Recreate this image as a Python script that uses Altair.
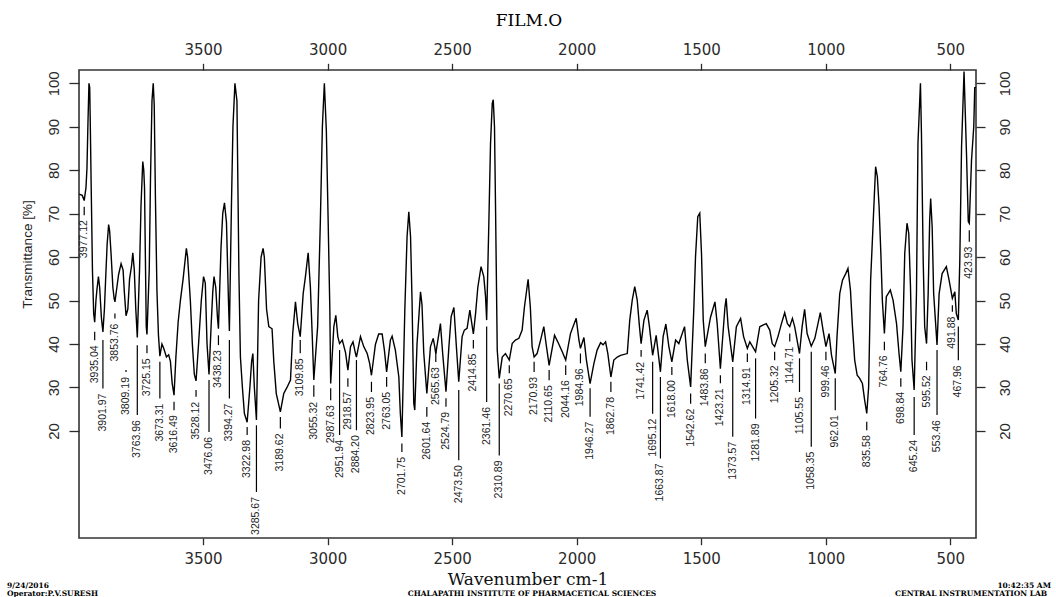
import altair as alt
import pandas as pd

# ---- spectrum (wavenumber cm-1, transmittance %), in segments ----
SEG_4000_3300 = [
    (3997, 74.5), (3985, 74.2), (3977.12, 73.0), (3970, 76), (3966, 80.5), (3962, 91), (3958, 100),
    (3955, 99), (3952, 88), (3949, 76), (3944, 57), (3939, 47), (3935.04, 45.0), (3930, 50),
    (3926, 52.5), (3920, 55.5), (3915, 53), (3908, 46), (3901.97, 42.8), (3896, 48), (3891, 55),
    (3885, 63), (3879, 67.5), (3875, 66), (3869, 60.5), (3862, 53), (3857, 50.5), (3853.76, 49.7),
    (3846, 53), (3839, 56), (3829, 58.5), (3821, 57), (3816, 52), (3809.19, 46.5), (3802, 48),
    (3795, 55), (3787, 58), (3782, 61), (3776, 57), (3770, 48), (3763.96, 41.5), (3755, 57),
    (3749, 72), (3742, 82), (3738, 80), (3735, 76), (3728, 44), (3725.15, 42.2), (3716, 57),
    (3711, 78), (3705, 96), (3700, 100), (3696, 95), (3691, 73), (3685, 52), (3679, 42),
    (3673.31, 37.2), (3665, 40), (3658, 39), (3647, 37), (3638, 37.5), (3631, 36), (3624, 31),
    (3616.49, 28.2), (3609, 37), (3600, 45), (3591, 50), (3580, 55), (3567, 62), (3562, 60),
    (3551, 50), (3543, 40), (3535, 33), (3528.12, 31.5), (3518, 40), (3507, 50), (3498, 55.5),
    (3491, 54), (3484, 40), (3476.06, 33.0), (3467, 45), (3461, 52), (3456, 55.5), (3449, 53),
    (3442, 46), (3438.23, 43.5), (3428, 62), (3421, 70), (3414, 72.5), (3406, 68), (3398, 50),
    (3394.27, 43.0), (3386, 72), (3380, 90), (3372, 100), (3364, 96), (3356, 56), (3350, 37),
    (3342, 30), (3334, 24), (3322.98, 22.0),
]
SEG_3300_2400 = [
    (3312, 30), (3305, 36), (3300, 37.8), (3294, 30), (3285.67, 22.5), (3277, 50), (3267, 60),
    (3259, 62), (3254, 60), (3245, 48), (3236, 44), (3223, 43.5), (3216, 36), (3206, 28.6),
    (3189.62, 24.4), (3176, 28.6), (3163, 30), (3149, 31.7), (3140, 42.4), (3129, 49.7),
    (3120, 44.7), (3109.85, 41.7), (3098, 51.6), (3089, 55.5), (3078, 61), (3069, 53),
    (3062, 42.4), (3055.32, 31.7), (3040, 44), (3029, 68.5), (3021, 90), (3013, 100), (3005, 89),
    (2998, 69), (2991, 47.8), (2987.63, 30.9), (2975, 44), (2967, 46.6), (2959, 41.7),
    (2951.94, 40.1), (2941, 40.9), (2928, 38), (2918.57, 34.0), (2908, 39.4), (2898, 40.5),
    (2888, 37.8), (2884.20, 37.0), (2868, 41.7), (2855, 39.4), (2841, 37.8), (2831, 35.5),
    (2823.95, 32.8), (2808, 39.9), (2795, 42.3), (2781, 42.3), (2772, 38.6), (2763.05, 33.6),
    (2748, 40.9), (2741, 41.8), (2728, 38.6), (2714, 32.4), (2708, 24), (2701.75, 18.6),
    (2690, 47.8), (2681, 64.7), (2674, 70.4), (2667, 64.7), (2661, 50), (2654, 26.3),
    (2650, 24.8), (2641, 40), (2627, 52), (2621, 49), (2614, 38), (2601.64, 28.6), (2587, 39.4),
    (2576, 41.3), (2570, 39.4), (2565.63, 37.8), (2547, 44.7), (2538, 37.8), (2524.79, 29.0),
    (2513, 39.4), (2504, 46.3), (2493, 48.4), (2483, 39.4), (2473.50, 31.3), (2460, 41.7),
    (2451, 43.2), (2440, 43.6), (2429, 47.8), (2414.85, 42.3), (2406, 47),
]
SEG_2400_1400 = [
    (2397, 53), (2384, 57.8), (2373, 55.5), (2366, 51), (2361.46, 45.5), (2353, 67), (2346, 86),
    (2339, 95.4), (2335, 96.2), (2330, 90), (2326, 72.4), (2319, 38.6), (2310.89, 32.1),
    (2299, 37), (2286, 37.8), (2270.65, 36.3), (2259, 40.1), (2246, 40.9), (2232, 41.3),
    (2219, 43.2), (2210, 48.4), (2195, 54.9), (2186, 48.4), (2179, 39.4), (2170.93, 37.0),
    (2159, 37.8), (2145, 40.9), (2132, 44), (2123, 40.1), (2110.65, 35.1), (2089, 42),
    (2076, 40.5), (2058, 38.2), (2044.16, 36.3), (2025, 42.4), (2002, 45.9), (1991, 40.9),
    (1984.96, 39), (1971, 41.5), (1961, 36.3), (1946.27, 30.9), (1931, 35.5), (1918, 38.6),
    (1904, 40.3), (1894, 39.8), (1884, 40.5), (1875, 37.8), (1862.78, 32.4), (1851, 36.3),
    (1837, 37), (1824, 37.4), (1797, 37.8), (1787, 45.5), (1777, 50.1), (1767, 53.2),
    (1757, 50.1), (1748, 44), (1741.42, 40.1), (1730, 45.5), (1717, 47.8), (1708, 44),
    (1695.12, 37.4), (1681, 42), (1663.87, 33.6), (1653, 41.7), (1642, 44.6), (1630, 39.4),
    (1618.00, 35.9), (1603, 40.9), (1590, 40.1), (1567, 44), (1556, 36.3), (1542.62, 30.1),
    (1530, 47.8), (1523, 60.1), (1514, 69.3), (1506, 70.1), (1499, 60.9), (1492, 45.5),
    (1483.86, 39.4), (1463, 46.1), (1445, 49.7), (1436, 44.7), (1423.21, 34.3), (1405, 48.4),
]
SEG_1400_397 = [
    (1400, 50.5), (1392, 44), (1373.57, 35.9), (1359, 44), (1342, 45.9), (1330, 41.7),
    (1314.91, 39), (1305, 40.5), (1281.89, 38.2), (1265, 44), (1239, 44.7), (1225, 43.2),
    (1215, 40.1), (1205.32, 39.4), (1192, 41.7), (1178, 44.7), (1165, 47.2), (1154, 44.7),
    (1144.71, 44), (1134, 45.9), (1125, 44), (1105.55, 37.8), (1095, 44), (1085, 48),
    (1075, 42.4), (1058.35, 39.5), (1044, 41.3), (1022, 47.2), (1011, 43.2), (999.46, 39.4),
    (987, 42.4), (977, 37.4), (962.01, 33.2), (955, 41.7), (944, 51.6), (933, 54.7), (920, 56.2),
    (911, 57.4), (901, 52.4), (893, 44), (884, 36.3), (874, 32.8), (864, 32.1), (853, 30.9),
    (844, 27.1), (835.58, 24.0), (828, 30.1), (820, 54.7), (810, 67.8), (800, 80.8), (793, 78.5),
    (786, 71.6), (779, 60.9), (773, 50.1), (764.76, 42.4), (757, 50.9), (741, 52.4), (730, 50.1),
    (716, 44.7), (706, 37.8), (698.84, 33.6), (690, 44), (683, 60.9), (674, 67.8), (667, 65.5),
    (660, 53.2), (654, 36.3), (645.24, 29.4), (636, 51.6), (630, 86.2), (620, 100), (616, 88.5),
    (609, 59.3), (603, 44), (595.52, 40.1), (589, 51.6), (583, 68.5), (579, 73.5), (573, 67),
    (567, 51.6), (553.46, 39.8), (545, 51.6), (533, 56.2), (516, 57.8), (505, 54.7),
    (491.88, 50.5), (482, 52), (476, 47), (467.96, 45.5), (462, 59.3), (455, 85.4), (445, 102.7),
    (435, 83.5), (428, 68.2), (423.93, 67.8), (415, 82.3), (406, 90), (402, 99), (397, 99),
]

# ---- peak picks: wavenumber, top of leader line and top of label (both in % T) ----
PEAK_WN = [3977.12, 3935.04, 3901.97, 3853.76, 3809.19, 3763.96, 3725.15, 3673.31, 3616.49,
           3528.12, 3476.06, 3438.23, 3394.27, 3322.98, 3285.67, 3189.62, 3109.85, 3055.32,
           2987.63, 2951.94, 2918.57, 2884.20, 2823.95, 2763.05, 2701.75, 2601.64, 2565.63,
           2524.79, 2473.50, 2414.85, 2361.46, 2310.89, 2270.65, 2170.93, 2110.65, 2044.16,
           1984.96, 1946.27, 1862.78, 1741.42, 1695.12, 1663.87, 1618.00, 1542.62, 1483.86,
           1423.21, 1373.57, 1314.91, 1281.89, 1205.32, 1144.71, 1105.55, 1058.35, 999.46,
           962.01, 835.58, 764.76, 698.84, 645.24, 595.52, 553.46, 491.88, 467.96, 423.93]
PEAK_LINE_TOP = [71.6, 42.8, 40.9, 47.0, 34.0, 39.7, 39.7, 35.9, 26.7,
                 29.4, 31.7, 42.0, 40.9, 20.9, 21.3, 23.2, 40.9, 30.5,
                 29.8, 38.6, 32.1, 36.3, 31.3, 32.4, 17.1, 25.5, 38.2,
                 27.5, 29.4, 40.9, 44.0, 30.9, 35.1, 35.9, 34.0, 35.1,
                 37.8, 29.8, 31.3, 38.6, 35.9, 32.4, 34.7, 28.6, 37.8,
                 32.8, 34.7, 37.8, 36.7, 38.2, 42.4, 36.7, 38.2, 38.2,
                 32.1, 22.1, 40.5, 32.1, 27.8, 35.9, 38.6, 48.9, 44.0, 66.2]
PEAK_TEXT_TOP = [68.5, 39.7, 28.6, 44.7, 32.4, 22.5, 36.7, 26.3, 23.6,
                 26.7, 18.6, 38.6, 26.3, 17.9, 4.8, 19.4, 36.7, 26.7,
                 25.9, 17.9, 29.0, 19.0, 27.8, 29.0, 14.0, 22.1, 34.7,
                 24.4, 12.1, 37.8, 25.5, 13.2, 32.1, 32.4, 30.5, 31.7,
                 34.4, 22.1, 27.8, 35.9, 22.8, 12.5, 31.7, 25.1, 34.4,
                 29.8, 17.5, 34.7, 21.7, 35.1, 39.4, 27.8, 15.2, 35.1,
                 23.6, 19.0, 37.4, 29.0, 17.9, 32.8, 22.5, 46.3, 35.1, 62.4]

X_TICKS = [3500, 3000, 2500, 2000, 1500, 1000, 500]
Y_TICKS = [20, 30, 40, 50, 60, 70, 80, 90, 100]
X_DOMAIN = [397, 3998]
Y_DOMAIN = [-4.65, 103.06]

TITLE = "FILM.O"
X_TITLE = "Wavenumber cm-1"
Y_TITLE = "Transmittance [%]"
FOOTER_LEFT = ["9/24/2016", "Operator:P.V.SURESH"]
FOOTER_CENTER = "CHALAPATHI INSTITUTE OF PHARMACETICAL SCIENCES"
FOOTER_RIGHT = ["10:42:35 AM", "CENTRAL INSTRUMENTATION LAB"]

# ---- build tables ----
points = SEG_4000_3300 + SEG_3300_2400 + SEG_2400_1400 + SEG_1400_397
spec = pd.DataFrame(points, columns=["wn", "t"])
peaks = pd.DataFrame({"wn": PEAK_WN, "top": PEAK_LINE_TOP, "txt": PEAK_TEXT_TOP})
peaks["label"] = [f"{v:.2f}" for v in PEAK_WN]

W, H = 897, 468
xs = alt.Scale(domain=X_DOMAIN, reverse=True, nice=False, zero=False)
ys = alt.Scale(domain=Y_DOMAIN, nice=False, zero=False)

AX_COL = "#2b2b2b"
x_common = dict(values=X_TICKS, format="d", grid=False, domain=False, tickSize=6.7,
                tickColor=AX_COL, tickWidth=1.3, labelFont="DejaVu Sans", labelFontSize=15,
                labelColor=AX_COL, labelFlush=False, labelOverlap=False)
y_common = dict(values=Y_TICKS, grid=False, domain=False, tickColor=AX_COL, tickWidth=1.3,
                labelAngle=270, labelAlign="center",
                labelFont="Liberation Sans Narrow, Arial Narrow, Liberation Sans",
                labelFontSize=15, labelColor=AX_COL, labelOverlap=False, labelFlush=False)

x_bottom = alt.Axis(orient="bottom", labelPadding=7, title=X_TITLE,
                    titleFont="DejaVu Serif", titleFontSize=17, titleFontWeight="normal",
                    titleColor="#111111", titleX=448.5, titleY=41, titleAlign="center",
                    titleBaseline="middle", **x_common)
x_top = alt.Axis(orient="top", labelPadding=6, title="", **x_common)
y_left = alt.Axis(orient="left", tickSize=10, labelBaseline="alphabetic", labelPadding=10.5,
                  title=Y_TITLE, titleAngle=270, titleX=-52, titleY=184, titleAlign="center",
                  titleBaseline="middle", titleFont="Liberation Sans", titleFontSize=13.5,
                  titleFontWeight="normal", titleColor="#222222", **y_common)
y_right = alt.Axis(orient="right", tickSize=9, labelBaseline="top", labelPadding=12,
                   title="", **y_common)

line = alt.Chart(spec).mark_line(color="black", strokeWidth=1.4).encode(
    x=alt.X("wn:Q", scale=xs, axis=x_bottom),
    y=alt.Y("t:Q", scale=ys, axis=y_left),
    order=alt.Order("wn:Q", sort="descending"),
)

rules = alt.Chart(peaks).transform_calculate(
    txt_end="datum.txt + 1.15"
).mark_rule(color="black", strokeWidth=1.2).encode(
    x=alt.X("wn:Q", scale=xs, axis=x_top),
    y=alt.Y("top:Q", scale=ys, axis=y_right),
    y2="txt_end:Q",
)

labels = alt.Chart(peaks).mark_text(
    angle=270, align="right", baseline="middle", font="Liberation Sans", fontSize=10.5,
    color="#1b1b24",
).encode(
    x=alt.X("wn:Q", scale=xs, axis=None),
    y=alt.Y("txt:Q", scale=ys, axis=None),
    text="label:N",
)


def free_text(txt, x, y, align, font, size, weight="normal"):
    return alt.Chart(alt.Data(values=[{"s": txt}])).mark_text(
        align=align, baseline="middle", font=font, fontSize=size, fontWeight=weight,
        color="black",
    ).encode(x=alt.value(x), y=alt.value(y), text="s:N")


texts = [
    free_text(TITLE, 450, -49, "center", "DejaVu Serif", 17),
    free_text(FOOTER_LEFT[0], -72, 515.7, "left", "DejaVu Serif", 7.5, "bold"),
    free_text(FOOTER_LEFT[1], -72, 524, "left", "DejaVu Serif", 7.5, "bold"),
    free_text(FOOTER_CENTER, 453, 524, "center", "DejaVu Serif", 7.5, "bold"),
    free_text(FOOTER_RIGHT[0], 972, 515.7, "right", "DejaVu Serif", 7.5, "bold"),
    free_text(FOOTER_RIGHT[1], 816, 524, "left", "DejaVu Serif", 7.5, "bold"),
]

chart = alt.layer(line, rules, labels, *texts).resolve_axis(
    x="independent", y="independent"
).properties(
    width=W, height=H,
    padding={"left": 79, "top": 70, "right": 80, "bottom": 59},
    autosize=alt.AutoSizeParams(type="none"),
    background="white",
).configure_view(stroke="#333333", strokeWidth=1.6)

chart.save("out.html", embed_options={"renderer": "svg", "actions": False})
